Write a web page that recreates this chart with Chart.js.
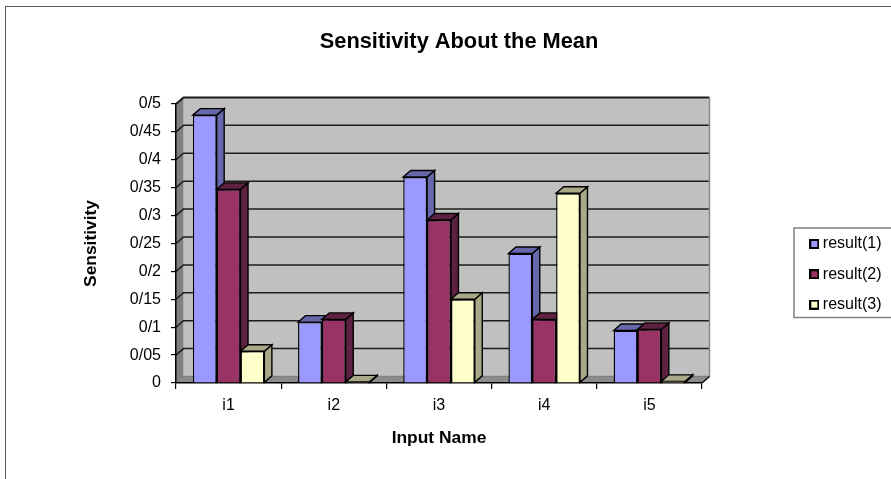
<!DOCTYPE html>
<html>
<head>
<meta charset="utf-8">
<title>Sensitivity About the Mean</title>
<script src="https://cdn.jsdelivr.net/npm/chart.js@4/dist/chart.umd.min.js"></script>
<style>
  html, body { margin: 0; padding: 0; background: #fff; overflow: hidden; }
  #wrap { position: relative; width: 891px; height: 479px; }
  #frame { position: absolute; left: 5px; top: 6px; right: -4px; bottom: -4px;
           border-left: 1.5px solid #5a5a5a; border-top: 1.5px solid #5a5a5a; }
  canvas { position: absolute; left: 0; top: 0; filter: blur(0.35px); }
</style>
</head>
<body>
<div id="wrap">
  <div id="frame"></div>
  <canvas id="chart" width="891" height="479"></canvas>
</div>
<script>
"use strict";

const CATEGORIES = ["i1", "i2", "i3", "i4", "i5"];
const RESULT_1 = [0.480, 0.109, 0.369, 0.232, 0.094];
const RESULT_2 = [0.347, 0.114, 0.292, 0.114, 0.096];
const RESULT_3 = [0.057, 0.002, 0.150, 0.340, 0.003];
const TICK_LABELS = ["0", "0/05", "0/1", "0/15", "0/2", "0/25", "0/3", "0/35", "0/4", "0/45", "0/5"];

const FONT = "'Liberation Sans', Arial, sans-serif";
const DX = 7.5, DY = 6.5;        // depth of the fake 3D box
const SHADES = ["#6767ab", "#5e2141", "#a9a987"];

// legend swatch: black edged square, used as the legend's point style
function swatch(color) {
  const c = document.createElement("canvas");
  c.width = c.height = 10;
  const x = c.getContext("2d");
  x.fillStyle = "#000";
  x.fillRect(0, 0, 10, 10);
  x.fillStyle = color;
  x.fillRect(2, 2, 6, 6);
  return c;
}

function poly(ctx, pts, fill, stroke) {
  ctx.beginPath();
  pts.forEach((p, i) => (i ? ctx.lineTo(p[0], p[1]) : ctx.moveTo(p[0], p[1])));
  ctx.closePath();
  ctx.fillStyle = fill;
  ctx.fill();
  if (stroke) { ctx.strokeStyle = stroke; ctx.lineWidth = 1.4; ctx.stroke(); }
}

const box3d = {
  id: "box3d",
  // title and legend sit off-centre in the reference, so move them after layout
  afterLayout(chart) {
    const t = chart.titleBlock;
    t.left = 0; t.right = 918;
    const l = chart.legend;
    l.left = 799.5; l.right = 891; l.top = 221.7; l.bottom = 360;
  },
  beforeDraw(chart) {
    const { ctx, chartArea: a, scales: { y } } = chart;
    const L = a.left, R = a.right, B = a.bottom, T = y.getPixelForValue(0.5);
    ctx.save();
    poly(ctx, [[L + DX, T - DY], [R + DX, T - DY], [R + DX, B - DY], [L + DX, B - DY]], "#c0c0c0");
    poly(ctx, [[L, T], [L + DX, T - DY], [L + DX, B - DY], [L, B]], "#808080");
    poly(ctx, [[L, B], [L + DX, B - DY], [R + DX, B - DY], [R, B]], "#8c8c8c");
    y.ticks.forEach((tk) => {
      const py = y.getPixelForValue(tk.value);
      ctx.strokeStyle = tk.value === 0 ? "#808080" : "#1c1c1c";
      ctx.lineWidth = tk.value === 0.5 ? 2 : 1.5;
      ctx.beginPath();
      ctx.moveTo(L, py);
      ctx.lineTo(L + DX, py - DY);
      ctx.lineTo(R + DX, py - DY);
      ctx.stroke();
    });
    ctx.strokeStyle = "#8a8a8a";
    ctx.lineWidth = 1.5;
    ctx.beginPath();
    ctx.moveTo(R + DX, T - DY);
    ctx.lineTo(R + DX, B - DY);
    ctx.stroke();
    ctx.strokeStyle = "#111";
    ctx.beginPath();
    ctx.moveTo(R + DX, B - DY);
    ctx.lineTo(R, B);
    ctx.stroke();
    ctx.restore();
  },
  beforeDatasetDraw() { return false; },   // bars are painted below, left to right
  afterDatasetsDraw(chart) {
    const ctx = chart.ctx;
    ctx.save();
    chart.data.datasets.forEach((ds, i) => {
      chart.getDatasetMeta(i).data.forEach((bar) => {
        const p = bar.getProps(["x", "y", "base", "width"], true);
        const l = p.x - p.width / 2, r = p.x + p.width / 2;
        poly(ctx, [[r, p.y], [r + DX, p.y - DY], [r + DX, p.base - DY], [r, p.base]], SHADES[i], "#000");
        poly(ctx, [[l, p.y], [l + DX, p.y - DY], [r + DX, p.y - DY], [r, p.y]], SHADES[i], "#000");
        bar.draw(ctx);
      });
    });
    ctx.restore();
  },
  afterDraw(chart) {
    const ctx = chart.ctx;
    ctx.save();
    ctx.strokeStyle = "#808080";
    ctx.lineWidth = 1.5;
    ctx.strokeRect(794, 228, 110, 89.5);
    ctx.restore();
  },
};

new Chart(document.getElementById("chart"), {
  type: "bar",
  plugins: [box3d],
  data: {
    labels: CATEGORIES,
    datasets: [
      { label: "result(1)", data: RESULT_1, backgroundColor: "#9999ff" },
      { label: "result(2)", data: RESULT_2, backgroundColor: "#993366" },
      { label: "result(3)", data: RESULT_3, backgroundColor: "#ffffcc" },
    ].map((d) => ({ ...d, borderColor: "#000", borderWidth: 1.4,
                    barPercentage: 1, categoryPercentage: 0.68 })),
  },
  options: {
    responsive: false,
    animation: false,
    layout: { padding: { left: 0, right: 189, top: 0, bottom: 0 } },
    plugins: {
      title: {
        display: true, text: "Sensitivity About the Mean", color: "#000",
        font: { family: FONT, size: 21.8, weight: "bold" },
        padding: { top: 29, bottom: 48.8 },
      },
      legend: {
        position: "chartArea", align: "start",
        labels: {
          usePointStyle: true, boxHeight: 1, boxWidth: 1, padding: 14.3, color: "#000",
          font: { family: FONT, size: 16 },
          generateLabels: (chart) => chart.data.datasets.map((d, i) => ({
            text: d.label, datasetIndex: i, pointStyle: swatch(d.backgroundColor),
            fillStyle: d.backgroundColor, strokeStyle: "#000", lineWidth: 0,
          })),
        },
      },
      tooltip: { enabled: false },
    },
    scales: {
      x: {
        afterFit: (s) => { s.height = 96; },
        grid: { drawOnChartArea: false, tickLength: 6, color: "#000", lineWidth: 1.2 },
        border: { color: "#000", width: 1.5 },
        ticks: { color: "#000", padding: 7, maxRotation: 0, font: { family: FONT, size: 16 } },
        title: { display: true, text: "Input Name", color: "#000",
                 font: { family: FONT, size: 17.4, weight: "bold" }, padding: { top: 0, bottom: 30 } },
      },
      y: {
        min: 0, max: 0.5,
        afterFit: (s) => { s.width = 176; },
        grid: { drawOnChartArea: false, tickLength: 5, color: "#000", lineWidth: 1.2 },
        border: { color: "#000", width: 1.5 },
        ticks: {
          stepSize: 0.05, color: "#000", padding: 10, autoSkip: false,
          font: { family: FONT, size: 16 },
          callback: (v, i) => TICK_LABELS[i],
        },
        title: { display: true, text: "Sensitivity", color: "#000",
                 font: { family: FONT, size: 17.4, weight: "bold" }, padding: { top: 81, bottom: 0 } },
      },
    },
  },
});
</script>
</body>
</html>
